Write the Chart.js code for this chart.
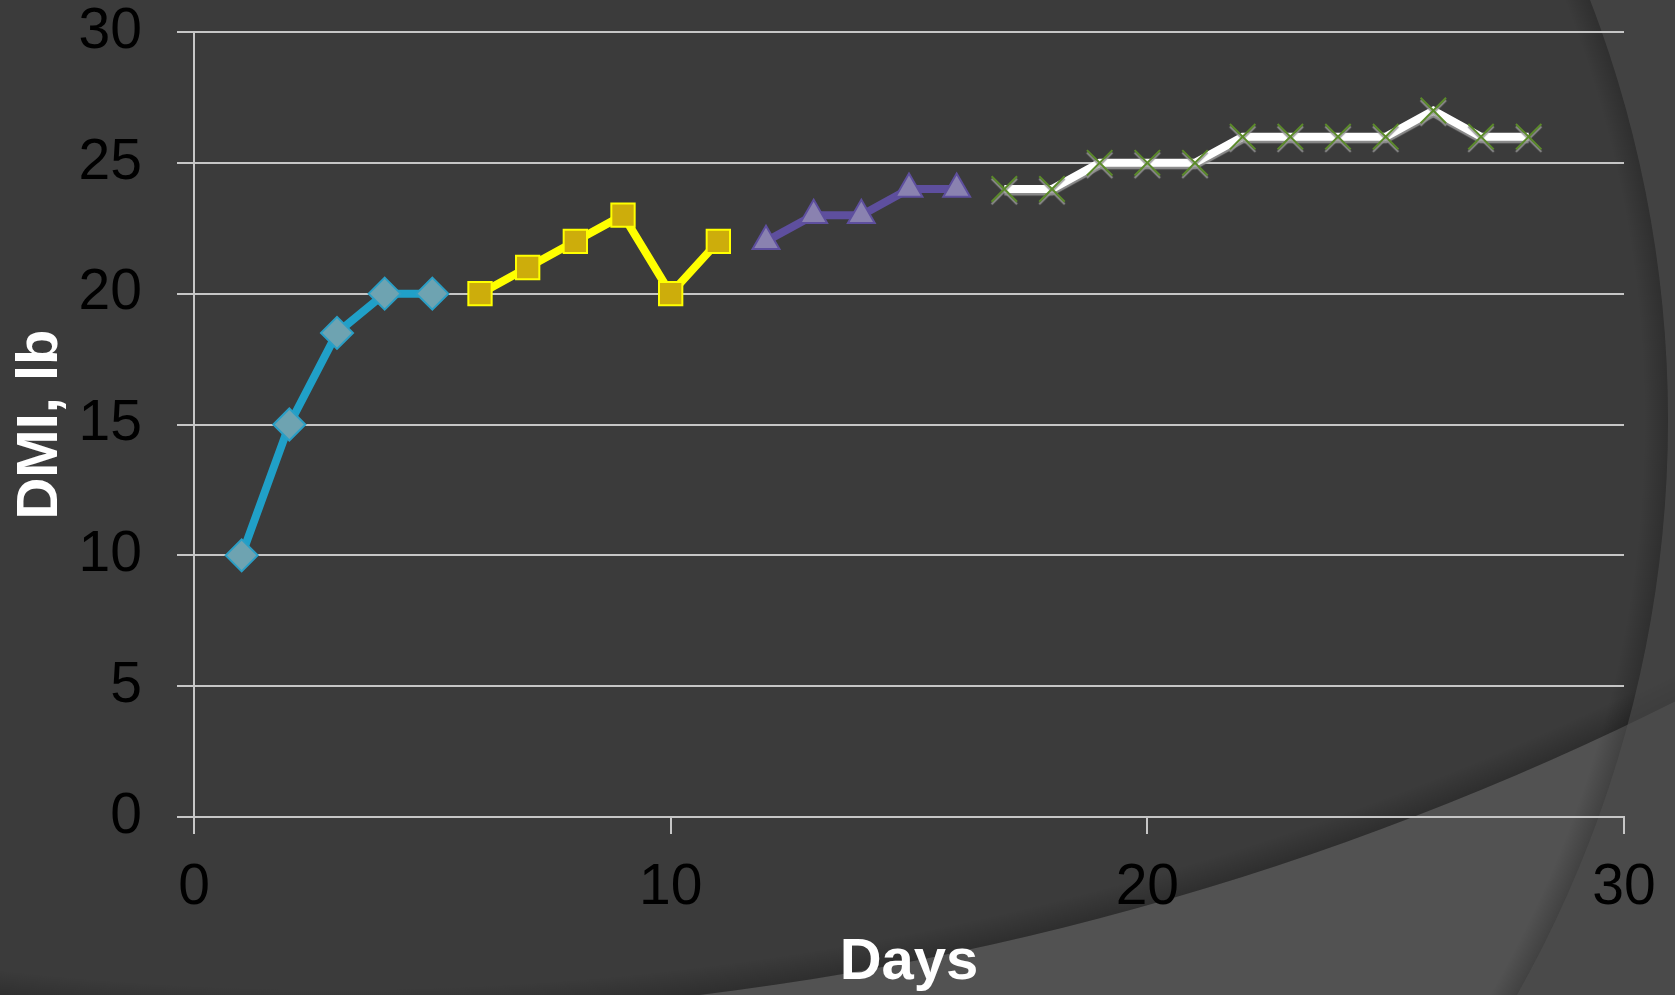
<!DOCTYPE html>
<html>
<head>
<meta charset="utf-8">
<title>DMI by day</title>
<script src="https://cdn.jsdelivr.net/npm/chart.js@4.4.1/dist/chart.umd.min.js"></script>
<style>
  html, body { margin: 0; padding: 0; background: #3b3b3b; }
  #wrap { width: 1675px; height: 995px; position: relative; }
</style>
</head>
<body>
<div id="wrap"><canvas id="dmiChart"></canvas></div>
<script>
(function () {
    // Dry matter intake (lb) by day, one array pair per feeding phase
    const phase1Days = [1, 2, 3, 4, 5];
    const phase1DMI = [10, 15, 18.5, 20, 20];

    const phase2Days = [6, 7, 8, 9, 10, 11];
    const phase2DMI = [20, 21, 22, 23, 20, 22];

    const phase3Days = [12, 13, 14, 15, 16];
    const phase3DMI = [22, 23, 23, 24, 24];

    const phase4Days = [17, 18, 19, 20, 21, 22, 23, 24, 25, 26, 27, 28];
    const phase4DMI = [24, 24, 25, 25, 25, 26, 26, 26, 26, 27, 26, 26];

    const xTickValues = [0, 10, 20, 30];
    const yTickValues = [0, 5, 10, 15, 20, 25, 30];

    const toPoints = (days, vals) => days.map((d, i) => ({ x: d, y: vals[i] }));

    const gridColor = '#c6c6c6';
    const fontFamily = '"Liberation Sans", Arial, sans-serif';

    // Slide-style backdrop: dark base, lighter sweep at the bottom, arc on the right
    const backdrop = {
        id: 'backdrop',
        beforeDraw(chart) {
            const ctx = chart.ctx;
            const w = chart.width, h = chart.height;
            const low = { x: 337, y: -1978, r: 2995 };
            const arc = { x: 498, y: 420, r: 1170 };
            ctx.save();

            ctx.fillStyle = '#525252';
            ctx.fillRect(0, 0, w, h);
            ctx.beginPath();
            ctx.arc(low.x, low.y, low.r, 0, Math.PI * 2);
            ctx.fillStyle = '#3b3b3b';
            ctx.fill();

            // soft shade just above the lower sweep
            let g = ctx.createRadialGradient(low.x, low.y, low.r - 28, low.x, low.y, low.r);
            g.addColorStop(0, 'rgba(0,0,0,0)');
            g.addColorStop(1, 'rgba(0,0,0,0.22)');
            ctx.beginPath();
            ctx.arc(low.x, low.y, low.r, 0, Math.PI * 2);
            ctx.fillStyle = g;
            ctx.fill();

            // right band outside the big arc
            ctx.beginPath();
            ctx.rect(0, 0, w, h);
            ctx.arc(arc.x, arc.y, arc.r, 0, Math.PI * 2, true);
            ctx.fillStyle = 'rgba(70,70,70,0.65)';
            ctx.fill('evenodd');

            // inner shade along the arc edge
            g = ctx.createRadialGradient(arc.x, arc.y, arc.r - 24, arc.x, arc.y, arc.r);
            g.addColorStop(0, 'rgba(0,0,0,0)');
            g.addColorStop(1, 'rgba(0,0,0,0.2)');
            ctx.beginPath();
            ctx.arc(arc.x, arc.y, arc.r, 0, Math.PI * 2);
            ctx.fillStyle = g;
            ctx.fill();

            ctx.restore();
        }
    };

    // faint drop shadow under the white line
    const lineShadow = {
        id: 'lineShadow',
        beforeDatasetDraw(chart, args) {
            if (args.index !== 3) return;
            const ctx = chart.ctx;
            ctx.save();
            ctx.shadowColor = 'rgba(150,150,150,0.9)';
            ctx.shadowOffsetY = 2.5;
            ctx.shadowBlur = 1;
        },
        afterDatasetDraw(chart, args) {
            if (args.index !== 3) return;
            chart.ctx.restore();
        }
    };

    const ctx = document.getElementById('dmiChart');
    new Chart(ctx, {
        type: 'line',
        data: {
            datasets: [{
                label: 'Phase 1',
                data: toPoints(phase1Days, phase1DMI),
                borderColor: '#20a0c8',
                borderWidth: 8,
                pointStyle: 'rectRot',
                pointRadius: 16,
                pointHoverRadius: 16,
                pointBackgroundColor: '#6ea3b1',
                pointBorderColor: '#2a9fc6',
                pointBorderWidth: 2
            }, {
                label: 'Phase 2',
                data: toPoints(phase2Days, phase2DMI),
                borderColor: '#ffff00',
                borderWidth: 8,
                pointStyle: 'rect',
                pointRadius: 16.5,
                pointHoverRadius: 16.5,
                pointBackgroundColor: '#cdad0b',
                pointBorderColor: '#ffff00',
                pointBorderWidth: 2
            }, {
                label: 'Phase 3',
                data: toPoints(phase3Days, phase3DMI),
                borderColor: '#5e4f9e',
                borderWidth: 8,
                pointStyle: 'triangle',
                pointRadius: 15.5,
                pointHoverRadius: 15.5,
                pointBackgroundColor: '#8a82b0',
                pointBorderColor: '#5e4f9e',
                pointBorderWidth: 2
            }, {
                label: 'Phase 4',
                data: toPoints(phase4Days, phase4DMI),
                borderColor: '#ffffff',
                borderWidth: 8,
                pointStyle: 'crossRot',
                pointRadius: 18,
                pointHoverRadius: 18,
                pointBorderColor: '#5b8a2a',
                pointBorderWidth: 2
            }]
        },
        options: {
            responsive: true,
            maintainAspectRatio: false,
            animation: false,
            layout: { padding: { top: 32, right: 51, left: 0, bottom: 0 } },
            plugins: {
                legend: { display: false },
                tooltip: { enabled: false }
            },
            scales: {
                x: {
                    type: 'linear',
                    min: 0,
                    max: 30,
                    afterBuildTicks: (scale) => { scale.ticks = xTickValues.map(v => ({ value: v })); },
                    afterFit: (scale) => { scale.height = 178; scale.paddingLeft = 0; scale.paddingRight = 0; },
                    grid: { drawOnChartArea: false, drawTicks: true, tickLength: 17, color: gridColor, lineWidth: 2 },
                    border: { color: gridColor, width: 2 },
                    ticks: { color: '#000', padding: 20, maxRotation: 0, font: { family: fontFamily, size: 57 } },
                    title: {
                        display: true,
                        text: 'Days',
                        color: '#ffffff',
                        padding: { top: 0, bottom: 0 },
                        font: { family: fontFamily, size: 58, weight: 'bold', lineHeight: 1.1 }
                    }
                },
                y: {
                    min: 0,
                    max: 30,
                    afterBuildTicks: (scale) => { scale.ticks = yTickValues.map(v => ({ value: v })); },
                    afterFit: (scale) => { scale.width = 194; scale.paddingTop = 0; scale.paddingBottom = 0; },
                    grid: { tickLength: 17, color: gridColor, lineWidth: 2 },
                    border: { color: gridColor, width: 2 },
                    ticks: { color: '#000', padding: 35, font: { family: fontFamily, size: 57 } },
                    title: {
                        display: true,
                        text: 'DMI, lb',
                        color: '#ffffff',
                        padding: { top: 6, bottom: 0 },
                        font: { family: fontFamily, size: 58, weight: 'bold' }
                    }
                }
            }
        },
        plugins: [backdrop, lineShadow]
    });
})();
</script>
</body>
</html>
